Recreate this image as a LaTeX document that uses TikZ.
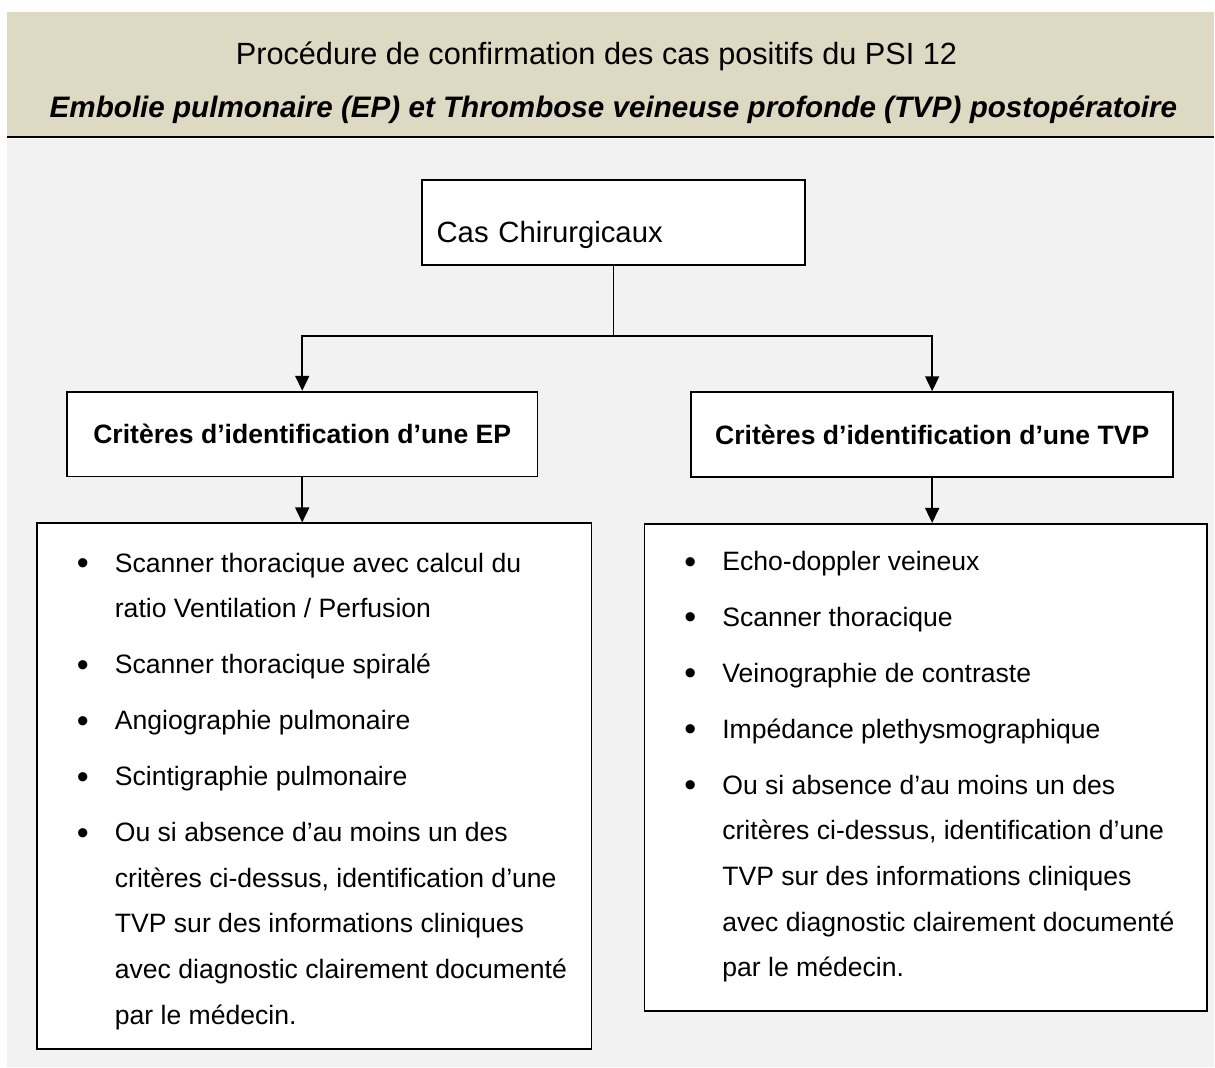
\documentclass[tikz,border=0pt]{standalone}
\usepackage{fontspec}
\setmainfont{Liberation Sans}
\usetikzlibrary{positioning,arrows.meta}

\definecolor{bandeau}{HTML}{DDD9C3}
\definecolor{fondgris}{HTML}{F2F2F2}

% puce un peu plus grosse que le texte
\newcommand{\puce}{\raisebox{-2.5pt}{\fontsize{34}{34}\selectfont\textbullet}}
% liste a puces : largeur de la colonne de texte, puis les lignes
\newcommand{\listepuces}[2]{%
  \begin{tabular}{@{\hspace{40pt}}p{38pt}@{}p{#1}@{}}#2\end{tabular}}

\begin{document}
\begin{tikzpicture}[
            x=1pt, y=-1pt,
            cadre/.style={draw, fill=white, line width=1.8pt, inner sep=0pt},
            entete/.style={cadre, font=\fontsize{26.6}{32}\selectfont\bfseries},
            liste/.style={cadre, font=\fontsize{26.6}{45.7}\selectfont},
            fleche/.style={-{Triangle[length=15pt,width=14pt]}, line width=1.8pt},
            trait/.style={line width=1.8pt}
        ]
          % fond et bandeau du titre
          \fill[white] (0,0) rectangle (1215,1068);
          \fill[fondgris] (7,139) rectangle (1215,1068);
          \fill[bandeau] (7,12) rectangle (1215,137);
          \draw[line width=2.2pt] (7,137) -- (1215,137);
          \node[anchor=base, font=\fontsize{30.7}{36}\selectfont] (titre) at (597,65) {Procédure de confirmation des cas positifs du PSI 12};
          \node[anchor=base, font=\fontsize{29.65}{35}\selectfont\bfseries\itshape] (soustitre) at (614,118) {Embolie pulmonaire (EP) et Thrombose veineuse profonde (TVP) postopératoire};

          \node[cadre, minimum width=384pt, minimum height=85pt, text width=354pt, inner xsep=15pt, align=left, text height=63pt, text depth=22pt, font=\fontsize{29.3}{35}\selectfont] (cas) at (614,222.5) {Cas Chirurgicaux};
          \node[entete, minimum width=471pt, minimum height=85pt] (ephead) at (302.5,434.5) {Critères d’identification d’une EP};
          \node[entete, minimum width=482pt, minimum height=85pt] (tvphead) at (933,435) {Critères d’identification d’une TVP};

          \coordinate (fourche) at (cas.south |- 0,336);
          \draw[trait] (cas.south) -- (fourche);
          \draw[fleche] (fourche) -| (ephead.north);
          \draw[fleche] (fourche) -| (tvphead.north);

          \node[liste, below=45pt of ephead.south, xshift=12pt, minimum width=555pt, minimum height=526pt] (eplist) {\listepuces{477pt}{%
            \puce & \rule{0pt}{38pt}Scanner thoracique avec calcul du \\
                  & ratio Ventilation / Perfusion \\[10.3pt]
            \puce & Scanner thoracique spiralé \\[10.3pt]
            \puce & Angiographie pulmonaire \\[10.3pt]
            \puce & Scintigraphie pulmonaire \\[10.3pt]
            \puce & Ou si absence d’au moins un des \\
                  & critères ci-dessus, identification d’une \\
                  & TVP sur des informations cliniques \\
                  & avec diagnostic clairement documenté \\
                  & par le médecin.}};
          \node[liste, below=45pt of tvphead.south, xshift=-6.5pt, minimum width=563pt, minimum height=488pt] (tvplist) {\listepuces{485pt}{%
            \puce & Echo-doppler veineux \\[10.3pt]
            \puce & Scanner thoracique \\[10.3pt]
            \puce & Veinographie de contraste \\[10.3pt]
            \puce & Impédance plethysmographique \\[10.3pt]
            \puce & Ou si absence d’au moins un des \\
                  & critères ci-dessus, identification d’une \\
                  & TVP sur des informations cliniques \\
                  & avec diagnostic clairement documenté \\
                  & par le médecin.\\[6pt]}};

          \draw[fleche] (ephead.south) -- (eplist.north -| ephead.south);
          \draw[fleche] (tvphead.south) -- (tvplist.north -| tvphead.south);
        \end{tikzpicture}
\end{document}
